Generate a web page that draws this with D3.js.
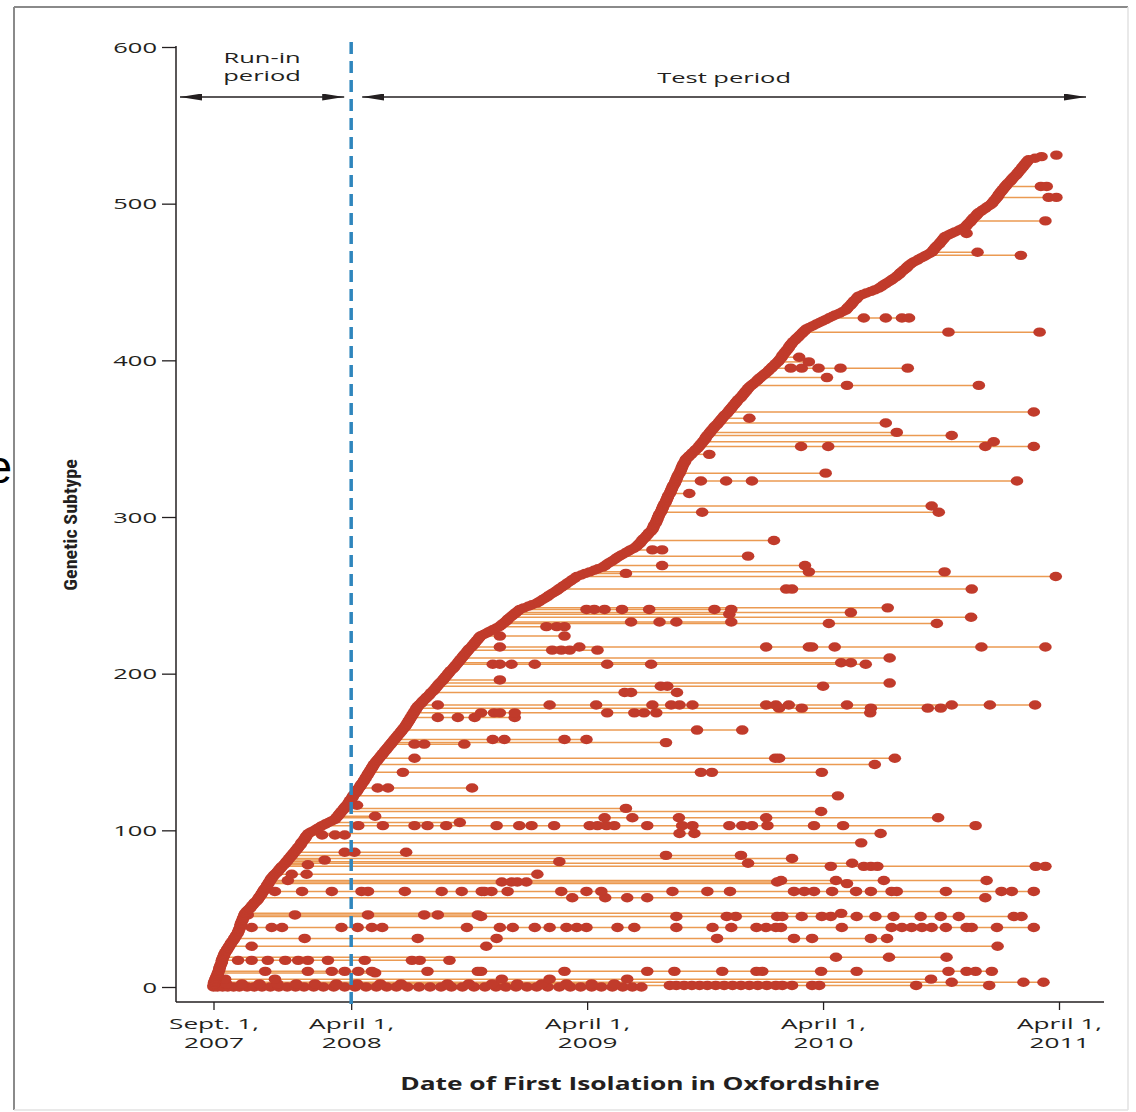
<!DOCTYPE html>
<html>
<head>
<meta charset="utf-8">
<script src="https://cdn.jsdelivr.net/npm/d3@7"></script>
<style>
  body { margin: 0; background: #fff; }
  svg { display: block; }
</style>
</head>
<body>
<svg id="chart" width="1136" height="1112"></svg>
<script>
const startDate = new Date(2007, 8, 1);
const runInEnd = new Date(2008, 3, 1);
const tickDates = [new Date(2007, 8, 1), new Date(2008, 3, 1), new Date(2009, 3, 1), new Date(2010, 3, 1), new Date(2011, 3, 1)];
const tickLine1 = ['Sept. 1,', 'April 1,', 'April 1,', 'April 1,', 'April 1,'];
const tickLine2 = ['2007', '2008', '2009', '2010', '2011'];
const yTicks = [0, 100, 200, 300, 400, 500, 600];

// day of first isolation (days after Sept. 1, 2007), one entry per genetic subtype, in subtype order
const firstDay = [
  0,0,1,1,2,3,4,5,6,7,8,9,9,10,11,12,13,13,14,15,16,17,
  18,20,21,23,24,26,27,29,31,32,34,35,
  37,38,39,40,41,42,42,43,44,45,46,47,48,
  49,51,53,56,58,60,62,64,67,
  69,70,72,74,75,77,78,80,82,83,85,86,88,89,
  91,93,95,98,100,102,104,106,109,
  111,113,115,117,119,121,123,125,127,129,
  131,133,135,136,138,140,142,143,145,
  147,151,156,160,164,
  168,173,178,183,
  188,190,192,194,196,198,200,202,204,206,
  208,210,211,213,215,216,218,220,222,223,225,227,228,
  230,232,233,235,236,238,239,241,242,244,245,247,248,
  250,252,254,256,258,260,262,264,266,268,
  270,272,274,276,278,280,282,284,286,288,290,292,294,
  296,298,299,301,302,304,305,307,308,310,311,313,314,
  316,318,321,323,325,328,330,333,335,337,340,
  342,344,346,348,350,353,355,357,359,361,363,365,367,370,372,374,376,
  378,380,382,384,386,388,390,392,394,396,399,401,403,405,407,409,411,
  413,418,423,427,432,437,
  442,445,448,451,454,456,459,462,465,468,471,
  474,480,487,493,
  500,504,508,512,516,519,523,527,
  531,534,538,541,545,548,552,555,559,
  562,569,575,582,589,595,
  602,606,609,613,617,621,624,
  628,632,637,641,645,650,
  654,656,659,661,663,665,668,670,672,674,677,
  679,680,681,682,684,685,686,687,688,689,690,692,693,694,
  695,696,697,699,700,701,702,703,704,706,707,708,709,710,711,713,714,715,
  716,717,718,719,721,722,723,724,725,726,727,729,730,
  731,734,736,739,741,744,746,749,
  751,753,755,757,759,761,762,764,766,768,770,
  772,774,776,779,781,783,785,787,789,791,794,796,
  798,800,802,804,806,808,810,812,815,817,819,821,823,825,827,
  829,832,835,838,841,843,846,849,852,
  855,858,860,863,865,868,870,873,
  875,877,879,880,882,884,886,888,890,891,893,
  895,897,900,902,905,907,910,912,915,
  917,922,927,932,937,942,
  947,952,957,962,968,973,
  978,980,982,985,987,989,991,994,996,
  998,1004,1010,1017,1023,
  1029,1033,1036,1040,1044,1048,1051,
  1055,1058,1061,1063,1066,1069,1072,1074,1077,
  1080,1084,1089,1093,1098,1102,1107,
  1111,1113,1115,1117,1119,1122,1124,1126,1128,1130,
  1132,1137,1142,1147,1153,1158,
  1163,1165,1167,1170,1172,1174,1176,1179,1181,
  1183,1187,1190,1194,1197,1201,
  1204,1206,1208,1210,1212,1214,1215,1217,1219,1221,1223,
  1225,1227,1229,1232,1234,1236,1238,1241,1243,
  1245,1247,1249,1251,1253,1255,1257,1259,
  1261,1271,1281,1304
];

// later isolations of a subtype: [subtype, days after Sept. 1, 2007]
const repeats = [
  [0, [6,14,22,31,40,52,63,75,88,101,114,127,140,155,170,186,203,219,236,252,268,283,300,318,335,352,368,385,403,420,437,452,468,485,500,517,535,552,568,585,600,617,633,648,662]],
  [1, [706,716,728,740,752,764,777,790,803,816,829,842,856,870,880,895,926,937,1087,1200]],
  [2, [20,44,71,99,128,157,190,222,258,290,362,395,431,470,508,546,585,620]],
  [3, [1142,1253,1284]],
  [5, [18,95,446,520,640,1110]],
  [9, [250]],
  [10, [80,146,183,203,224,245,331,409,414,543,671,713,787,840,849,940,995,1137,1165,1179,1204]],
  [17, [38,59,84,111,131,146,177,234,307,319,365]],
  [19, [963,1045,1134]],
  [26, [59,422,1213]],
  [31, [141,316,438,779,898,926,1017,1042]],
  [38, [59,90,106,198,223,245,261,392,443,463,497,520,546,562,577,625,651,716,772,801,840,855,870,878,972,1049,1065,1080,1096,1111,1133,1165,1173,1212,1269]],
  [45, [414,716,794,808,872,880,910,941,955,995,1024,1052,1094,1125,1153,1238,1250]],
  [46, [53,126,239,326,347,409]],
  [47, [971]],
  [57, [555,606,640,671,1194]],
  [61, [95,137,183,229,239,296,353,384,415,419,430,455,538,577,600,710,764,799,898,914,929,957,994,1017,1049,1057,1133,1219,1235,1269]],
  [66, [980]],
  [67, [446,461,470,484,872]],
  [68, [115,878,963,1037,1196]],
  [72, [121,144,501]],
  [77, [955,1006,1017,1027,1272,1287]],
  [78, [146]],
  [79, [827,988]],
  [80, [535]],
  [81, [172]],
  [82, [895]],
  [84, [700,816]],
  [86, [203,218,298]],
  [92, [1002]],
  [97, [168,188,203]],
  [98, [721,744,1032]],
  [103, [224,262,311,331,360,438,473,492,527,582,594,608,620,671,725,741,798,818,833,857,929,974,1179]],
  [105, [381]],
  [108, [605,648,720,855,1121]],
  [109, [250]],
  [112, [940]],
  [114, [638]],
  [116, [222]],
  [122, [966]],
  [127, [254,270,400]],
  [137, [293,754,771,941]],
  [142, [1023]],
  [146, [311,869,875,1054]],
  [155, [311,326,388]],
  [156, [700]],
  [158, [432,450,543,577]],
  [164, [748,818]],
  [172, [347,378,404,466]],
  [175, [414,434,443,466,609,651,666,685,1016]],
  [178, [875,910,1017,1105,1125]],
  [180, [347,520,592,679,708,721,741,855,870,890,980,1142,1201,1271]],
  [188, [636,646,717]],
  [192, [692,702,943]],
  [194, [1046]],
  [196, [443]],
  [206, [432,443,461,497,609,677,1009]],
  [207, [971,986]],
  [210, [1046]],
  [215, [524,538,551,594]],
  [217, [443,566,855,921,926,961,1188,1287]],
  [224, [443,543]],
  [230, [515,531,543]],
  [232, [952,1119]],
  [233, [646,690,716,801]],
  [236, [1172]],
  [238, [798]],
  [239, [986]],
  [241, [577,589,605,632,674,775,801]],
  [242, [1043]],
  [254, [886,895,1173]],
  [262, [1303]],
  [264, [638]],
  [265, [921,1131]],
  [269, [694,915]],
  [275, [827]],
  [279, [679,694]],
  [285, [867]],
  [303, [756,1122]],
  [307, [1111]],
  [315, [736]],
  [323, [754,793,833,1243]],
  [328, [947]],
  [340, [767]],
  [345, [909,951,1194,1269]],
  [348, [1207]],
  [352, [1142]],
  [354, [1057]],
  [360, [1040]],
  [363, [829]],
  [367, [1269]],
  [384, [980,1184]],
  [389, [949]],
  [395, [893,910,936,970,1074]],
  [399, [921]],
  [402, [906]],
  [418, [1137,1278]],
  [427, [1006,1040,1065,1076]],
  [467, [1249]],
  [469, [1182]],
  [481, [1165]],
  [489, [1287]],
  [504, [1292,1304]],
  [511, [1280,1289]]
];

const FONT = '"Open Sans", "DejaVu Sans", sans-serif';
const INK = '#231f20';
const DOT = '#c13b2b';
const LINK = '#eb9a52';

const svg = d3.select('#chart');

const x = d3.scaleTime().domain([tickDates[0], tickDates[4]]).range([213.5, 1059]);
const y = d3.scaleLinear().domain([0, 600]).range([987, 47]);
const dayX = (d) => x(d3.timeDay.offset(startDate, d));

// text drawn stretched sideways, as in the printed figure
function addText(parent, lines, tx, ty, o) {
  const t = parent.append('text')
    .attr('transform', `translate(${tx},${ty})${o.rotate ? ' rotate(' + o.rotate + ')' : ''} scale(${o.sx || 1},1)`)
    .attr('text-anchor', o.anchor || 'middle')
    .attr('font-family', o.family || FONT)
    .attr('font-size', o.size)
    .attr('font-weight', o.weight || 'normal')
    .attr('fill', INK);
  [].concat(lines).forEach((str, i) => {
    t.append('tspan').attr('x', 0).attr('dy', i === 0 ? 0 : o.lineGap).text(str);
  });
  return t;
}

// frame round the figure
svg.append('line').attr('x1', 14).attr('y1', 7).attr('x2', 14).attr('y2', 1110).attr('stroke', '#8a8a8a').attr('stroke-width', 2);
svg.append('line').attr('x1', 14).attr('y1', 7).attr('x2', 1128).attr('y2', 7).attr('stroke', '#8a8a8a').attr('stroke-width', 2);
svg.append('line').attr('x1', 1128).attr('y1', 7).attr('x2', 1128).attr('y2', 1110).attr('stroke', '#e2e2e2').attr('stroke-width', 1.5);
svg.append('line').attr('x1', 14).attr('y1', 1110).attr('x2', 1128).attr('y2', 1110).attr('stroke', '#e2e2e2').attr('stroke-width', 1.5);

// clipped letter at the left edge
addText(svg, 'e', 12, 483, { size: 46, anchor: 'end', family: '"Liberation Sans", Arial, sans-serif' })
  .attr('fill', '#000');

// rows: first isolation + later ones
const rows = repeats.map(([s, days]) => {
  const all = [firstDay[s]].concat(days);
  return { s, lo: d3.min(all), hi: d3.max(all), days };
});

const plot = svg.append('g');

plot.selectAll('line.link')
  .data(rows)
  .join('line')
  .attr('class', 'link')
  .attr('x1', (d) => dayX(d.lo))
  .attr('x2', (d) => dayX(d.hi))
  .attr('y1', (d) => y(d.s))
  .attr('y2', (d) => y(d.s))
  .attr('stroke', LINK)
  .attr('stroke-width', 1.5);

const laterDots = rows.flatMap((r) => r.days.map((d) => ({ s: r.s, day: d })));

plot.selectAll('ellipse.later')
  .data(laterDots)
  .join('ellipse')
  .attr('class', 'later')
  .attr('cx', (d) => dayX(d.day))
  .attr('cy', (d) => y(d.s))
  .attr('rx', 6.3)
  .attr('ry', 4.7)
  .attr('fill', DOT);

plot.selectAll('ellipse.first')
  .data(firstDay)
  .join('ellipse')
  .attr('class', 'first')
  .attr('cx', (d) => dayX(d))
  .attr('cy', (d, i) => y(i))
  .attr('rx', 6.3)
  .attr('ry', 4.7)
  .attr('fill', DOT);

// y axis
const yAxis = svg.append('g')
  .attr('transform', 'translate(176,0)')
  .call(d3.axisLeft(y).tickValues(yTicks).tickSize(14).tickPadding(4));
yAxis.select('.domain').remove();
yAxis.selectAll('.tick line').attr('stroke', INK).attr('stroke-width', 1.3);
yAxis.selectAll('.tick text')
  .attr('x', null)
  .attr('dy', '0.35em')
  .attr('transform', 'translate(-19,0) scale(1.7,1)')
  .attr('font-family', FONT)
  .attr('font-size', 15)
  .attr('fill', INK);

// x axis
const xAxis = svg.append('g')
  .attr('transform', 'translate(0,1002)')
  .call(d3.axisBottom(x).tickValues(tickDates).tickSize(8).tickFormat(''));
xAxis.select('.domain').remove();
xAxis.selectAll('.tick line').attr('stroke', INK).attr('stroke-width', 1.3);
xAxis.selectAll('.tick').each(function (d, i) {
  const g = d3.select(this);
  addText(g, tickLine1[i], 0, 27, { size: 15, sx: 1.75 });
  addText(g, tickLine2[i], 0, 46, { size: 15, sx: 1.75 });
});

svg.append('line').attr('x1', 176).attr('x2', 176).attr('y1', 46).attr('y2', 1002).attr('stroke', INK).attr('stroke-width', 1.5);
svg.append('line').attr('x1', 176).attr('x2', 1104).attr('y1', 1002).attr('y2', 1002).attr('stroke', INK).attr('stroke-width', 1.5);

// end of the run-in period
svg.append('line')
  .attr('x1', x(runInEnd)).attr('x2', x(runInEnd))
  .attr('y1', 42).attr('y2', 1010)
  .attr('stroke', '#2f86bd')
  .attr('stroke-width', 3.5)
  .attr('stroke-dasharray', '12,7');

// period arrows
svg.append('defs').append('marker')
  .attr('id', 'head')
  .attr('viewBox', '0 0 22 7')
  .attr('refX', 22).attr('refY', 3.5)
  .attr('markerUnits', 'userSpaceOnUse')
  .attr('markerWidth', 22).attr('markerHeight', 7)
  .attr('orient', 'auto-start-reverse')
  .append('path').attr('d', 'M0,0L22,3.5L0,7Z').attr('fill', INK);

const arrowY = 97;
const periods = [
  { x1: 180, x2: x(runInEnd) - 7 },
  { x1: x(runInEnd) + 11, x2: 1086 }
];
svg.selectAll('line.period')
  .data(periods)
  .join('line')
  .attr('class', 'period')
  .attr('x1', (d) => d.x1).attr('x2', (d) => d.x2)
  .attr('y1', arrowY).attr('y2', arrowY)
  .attr('stroke', INK).attr('stroke-width', 1.3)
  .attr('marker-start', 'url(#head)')
  .attr('marker-end', 'url(#head)');

const runMid = (periods[0].x1 + periods[0].x2) / 2;
addText(svg, ['Run-in', 'period'], runMid, 63, { size: 15, sx: 1.7, lineGap: 18 });
addText(svg, 'Test period', (periods[1].x1 + periods[1].x2) / 2, 83, { size: 15, sx: 1.7 });

// axis titles
addText(svg, 'Date of First Isolation in Oxfordshire', 640, 1090, { size: 17, weight: 'bold', sx: 1.55 });
addText(svg, 'Genetic Subtype', 77, 525, { size: 19, weight: 'bold', rotate: -90, sx: 1.06, family: '"Liberation Sans Narrow", "Roboto Condensed", sans-serif' });
</script>
</body>
</html>
